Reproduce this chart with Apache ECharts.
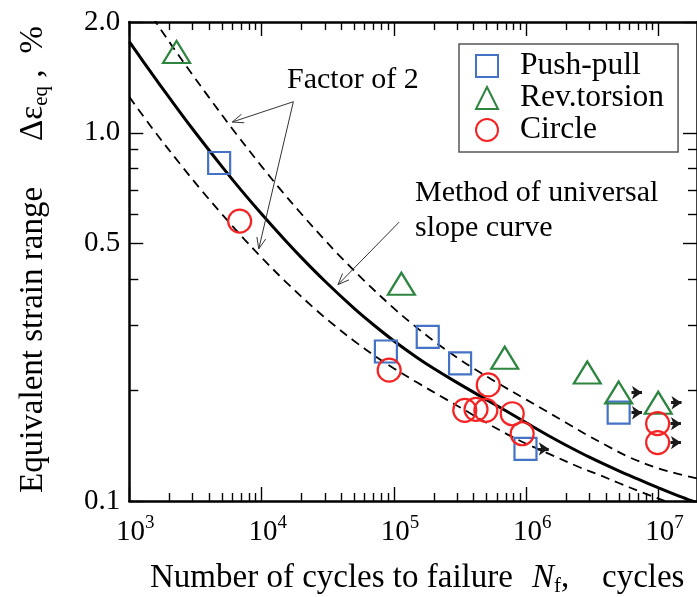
<!DOCTYPE html>
<html><head><meta charset="utf-8">
<script src="https://cdn.jsdelivr.net/npm/echarts@6/dist/echarts.min.js"></script>
<style>html,body{margin:0;padding:0;background:#fff}#c{width:697px;height:597px}</style>
</head><body><div id="c"></div>
<script>
// ---- data ----
const pushPull = [[4775,0.828],[86900,0.2547],[180000,0.279],[316000,0.2366],[986000,0.1386],[4990000,0.1737]];
const revTorsion = [[2276,1.659],[113800,0.389],[687000,0.245],[2890000,0.2233],[4990000,0.197],[9930000,0.1849]];
const circle = [[6823,0.576],[92000,0.2266],[342800,0.1763],[417000,0.1774],[495000,0.1763],[516000,0.2067],[783000,0.1726],[931000,0.1523],[9830000,0.1622],[9830000,0.1441]];
const runOuts = [[986000,0.1386],[4990000,0.1737],[4990000,0.197],[9930000,0.1849],[9830000,0.1622],[9830000,0.1441]];
const universalSlope = [[1000,1.768],[1500,1.439],[2000,1.248],[3000,1.026],[5000,0.811],[7000,0.699],[10000,0.602],[15000,0.5115],[20000,0.4582],[30000,0.3958],[50000,0.3335],[70000,0.3011],[100000,0.2721],[150000,0.2451],[200000,0.2291],[300000,0.2097],[500000,0.1885],[700000,0.1758],[1000000,0.1631],[1500000,0.1499],[2000000,0.1417],[3000000,0.1315],[5000000,0.1207],[7000000,0.1146],[10000000,0.1086],[15000000,0.1024],[20000000,0.0985]];
const upperFactor2 = [[1500,2.06],[2000,1.768],[3000,1.439],[4000,1.248],[6000,1.026],[10000,0.811],[14000,0.699],[20000,0.602],[30000,0.5115],[40000,0.4582],[60000,0.3958],[100000,0.3335],[140000,0.3011],[200000,0.2721],[300000,0.2451],[400000,0.2291],[600000,0.2097],[1000000,0.1885],[1400000,0.1758],[2000000,0.1631],[3000000,0.1499],[4000000,0.1417],[6000000,0.1315],[10000000,0.1225],[14000000,0.1185],[20000000,0.115]];
const lowerFactor2 = [[1000,1.252],[1500,1.026],[2500,0.811],[3500,0.699],[5000,0.602],[7500,0.5115],[10000,0.4582],[15000,0.3958],[25000,0.3335],[35000,0.3011],[50000,0.2721],[75000,0.2451],[100000,0.2291],[150000,0.2097],[250000,0.1885],[350000,0.1758],[500000,0.1631],[750000,0.1505],[1000000,0.1431],[1500000,0.1341],[2500000,0.1237],[3500000,0.118],[5000000,0.1119],[7500000,0.1055],[10000000,0.1015],[13000000,0.098]];
const xMajorTicks = [1e3,1e4,1e5,1e6,1e7];
const xMinorTicks = [2e3,3e3,4e3,5e3,6e3,7e3,8e3,9e3,2e4,3e4,4e4,5e4,6e4,7e4,8e4,9e4,2e5,3e5,4e5,5e5,6e5,7e5,8e5,9e5,2e6,3e6,4e6,5e6,6e6,7e6,8e6,9e6];
const yMajorTicks = [0.1,0.5,1.0,2.0];
const yMinorTicks = [0.2,0.3,0.4,0.6,0.7,0.8,0.9];
const yTickLabels = [0.1,0.5,1.0,2.0];
const X_MIN = 1e3, X_MAX = 1.95e7, Y_MIN = 0.1, Y_MAX = 2.0;

const FONT = 'Liberation Serif';
const BLUE = '#4472C4', GREEN = '#2E8540', RED = '#F52424';
const L = Math.log10;
const LXMIN = L(X_MIN), LXMAX = L(X_MAX), LYMIN = L(Y_MIN), LYMAX = L(Y_MAX);

const chart = echarts.init(document.getElementById('c'), null, {renderer:'canvas'});

function decoX(pos, ticks, len, showLine, showLabel) {
  return {type:'value', gridIndex:0, position:pos, min:LXMIN, max:LXMAX,
    axisLine:{show:showLine, onZero:false, lineStyle:{color:'#000', width:2.5}},
    axisTick:{show:true, inside:true, length:len, customValues:ticks.map(L), lineStyle:{color:'#000', width:1.4}},
    axisLabel:{show:showLabel, customValues:xMajorTicks.map(L), margin:13, padding:[0,0,0,12],
      formatter: v => '{b|10}{s|' + Math.round(v) + '}',
      rich:{b:{fontFamily:FONT, fontSize:29, color:'#000', lineHeight:36},
            s:{fontFamily:FONT, fontSize:19, color:'#000', lineHeight:18, verticalAlign:'top'}}},
    splitLine:{show:false}};
}
function decoY(pos, ticks, len, showLine, showLabel) {
  return {type:'value', gridIndex:0, position:pos, min:LYMIN, max:LYMAX,
    axisLine:{show:showLine, onZero:false, lineStyle:{color:'#000', width:2.5}},
    axisTick:{show:true, inside:true, length:len, customValues:ticks.map(L), lineStyle:{color:'#000', width:1.4}},
    axisLabel:{show:showLabel, customValues:yTickLabels.map(L), margin:9,
      fontFamily:FONT, fontSize:29, color:'#000',
      formatter: v => Math.pow(10, v).toFixed(1)},
    splitLine:{show:false}};
}

const option = {
  animation:false,
  backgroundColor:'#fff',
  grid:{left:129.3, top:22, right:-5.5, bottom:96, containLabel:false},
  xAxis:[
    {type:'log', gridIndex:0, position:'bottom', min:X_MIN, max:X_MAX, logBase:10,
     axisLine:{show:false}, axisTick:{show:false}, axisLabel:{show:false}, splitLine:{show:false}},
    decoX('bottom', xMajorTicks, 14, true, true),
    decoX('bottom', xMinorTicks, 8, false, false),
    decoX('top', xMajorTicks, 14, true, false),
    decoX('top', xMinorTicks, 8, false, false)
  ],
  yAxis:[
    {type:'log', gridIndex:0, position:'left', min:Y_MIN, max:Y_MAX, logBase:10,
     axisLine:{show:false}, axisTick:{show:false}, axisLabel:{show:false}, splitLine:{show:false}},
    decoY('left', yMajorTicks, 14, true, true),
    decoY('left', yMinorTicks, 9, false, false),
    decoY('right', yMajorTicks, 14, true, false),
    decoY('right', yMinorTicks, 9, false, false)
  ],
  legend:{orient:'vertical', left:459, top:44, padding:[6,14,6,16], itemGap:0, itemWidth:22, itemHeight:22,
    backgroundColor:'#fff', borderColor:'#555', borderWidth:1.5, borderRadius:0, selectedMode:false,
    textStyle:{fontFamily:FONT, fontSize:31.5, color:'#000', lineHeight:32, padding:[0,0,0,17]},
    itemStyle:{borderWidth:2, opacity:1},
    data:['Push-pull','Rev.torsion','Circle']},
  series:[
    {type:'line', xAxisIndex:0, yAxisIndex:0, data:universalSlope, smooth:0.35, showSymbol:false, silent:true,
     lineStyle:{color:'#000', width:3}, z:3},
    {type:'line', xAxisIndex:0, yAxisIndex:0, data:upperFactor2, smooth:0.35, showSymbol:false, silent:true,
     lineStyle:{color:'#000', width:1.8, type:[9,6]}, z:3},
    {type:'line', xAxisIndex:0, yAxisIndex:0, data:lowerFactor2, smooth:0.35, showSymbol:false, silent:true,
     lineStyle:{color:'#000', width:1.8, type:[9,6]}, z:3},
    {type:'lines', coordinateSystem:'cartesian2d', xAxisIndex:0, yAxisIndex:0, silent:true,
     symbol:['none','arrow'], symbolSize:[1,10],
     lineStyle:{color:'#1a1a1a', width:3.2, opacity:1},
     data: runOuts.map(p => ({coords:[[p[0]*1.25, p[1]], [p[0]*1.5, p[1]]]})), z:4},
    {name:'Push-pull', type:'scatter', xAxisIndex:0, yAxisIndex:0, data:pushPull, symbol:'rect', symbolSize:22,
     itemStyle:{color:'rgba(255,255,255,0)', borderColor:BLUE, borderWidth:2.2, opacity:1}, z:5},
    {name:'Rev.torsion', type:'scatter', xAxisIndex:0, yAxisIndex:0, data:revTorsion, symbol:'triangle', symbolSize:[27,22],
     itemStyle:{color:'rgba(255,255,255,0)', borderColor:GREEN, borderWidth:2.2, opacity:1}, z:5},
    {name:'Circle', type:'scatter', xAxisIndex:0, yAxisIndex:0, data:circle, symbol:'circle', symbolSize:23,
     itemStyle:{color:'rgba(255,255,255,0)', borderColor:RED, borderWidth:2.2, opacity:1}, z:5}
  ]
};
chart.setOption(option);

// ---- annotations (anchored in data space) ----
const annoArrows = [
  {from:[17380,1.215], to:[6000,1.07]},
  {from:[17380,1.215], to:[9510,0.484]},
  {from:[109400,0.572], to:[37760,0.387]}
];
const px = p => chart.convertToPixel({seriesIndex:0}, p);
const graphics = [];
annoArrows.forEach(a => {
  const s = px(a.from), t = px(a.to);
  graphics.push({type:'line', shape:{x1:s[0], y1:s[1], x2:t[0], y2:t[1]}, style:{stroke:'#333', lineWidth:1}, z:10});
  const dx = s[0]-t[0], dy = s[1]-t[1], d = Math.hypot(dx,dy), ux = dx/d, uy = dy/d;
  const th = 22*Math.PI/180, len = 12;
  const r = sgn => [t[0] + len*(ux*Math.cos(sgn*th) - uy*Math.sin(sgn*th)), t[1] + len*(ux*Math.sin(sgn*th) + uy*Math.cos(sgn*th))];
  graphics.push({type:'polyline', shape:{points:[r(1), t, r(-1)]}, style:{stroke:'#333', lineWidth:1, fill:null}, z:10});
});
const txt = (x, y, text, size) => ({type:'text', x:x, y:y, z:11,
  style:{text:text, fontFamily:FONT, fontSize:size||30, fill:'#000', align:'left', verticalAlign:'middle'}});
graphics.push(txt(287, 80, 'Factor of 2'));
graphics.push(txt(415, 193, 'Method of universal'));
graphics.push(txt(415, 228, 'slope curve'));
// axis titles
graphics.push(txt(150, 578, 'Number of cycles to failure', 33));
graphics.push({type:'text', x:532, y:578, z:11, style:{text:'{n|N}{f|f}{c|,}', align:'left', verticalAlign:'middle',
  rich:{n:{fontFamily:FONT, fontSize:33, fontStyle:'italic', fill:'#000', lineHeight:38},
        f:{fontFamily:FONT, fontSize:21, fill:'#000', lineHeight:21, verticalAlign:'bottom'},
        c:{fontFamily:FONT, fontSize:33, fill:'#000', lineHeight:38}}}});
graphics.push(txt(602, 578, 'cycles', 33));
graphics.push({type:'text', x:33, y:493, rotation:Math.PI/2, z:11, style:{
  text:'{t|Equivalent strain range}{d|Δε}{e|eq}{c| ,}{p|%}', align:'left', verticalAlign:'middle',
  rich:{t:{fontFamily:FONT, fontSize:33, fill:'#000', lineHeight:38},
        d:{fontFamily:FONT, fontSize:33, fill:'#000', lineHeight:38, padding:[0,0,0,46]},
        e:{fontFamily:FONT, fontSize:21, fill:'#000', lineHeight:21, verticalAlign:'bottom'},
        c:{fontFamily:FONT, fontSize:33, fill:'#000', lineHeight:38},
        p:{fontFamily:FONT, fontSize:33, fill:'#000', lineHeight:38, padding:[0,0,0,16]}}}});
chart.setOption({graphic:graphics});
</script>
</body></html>
